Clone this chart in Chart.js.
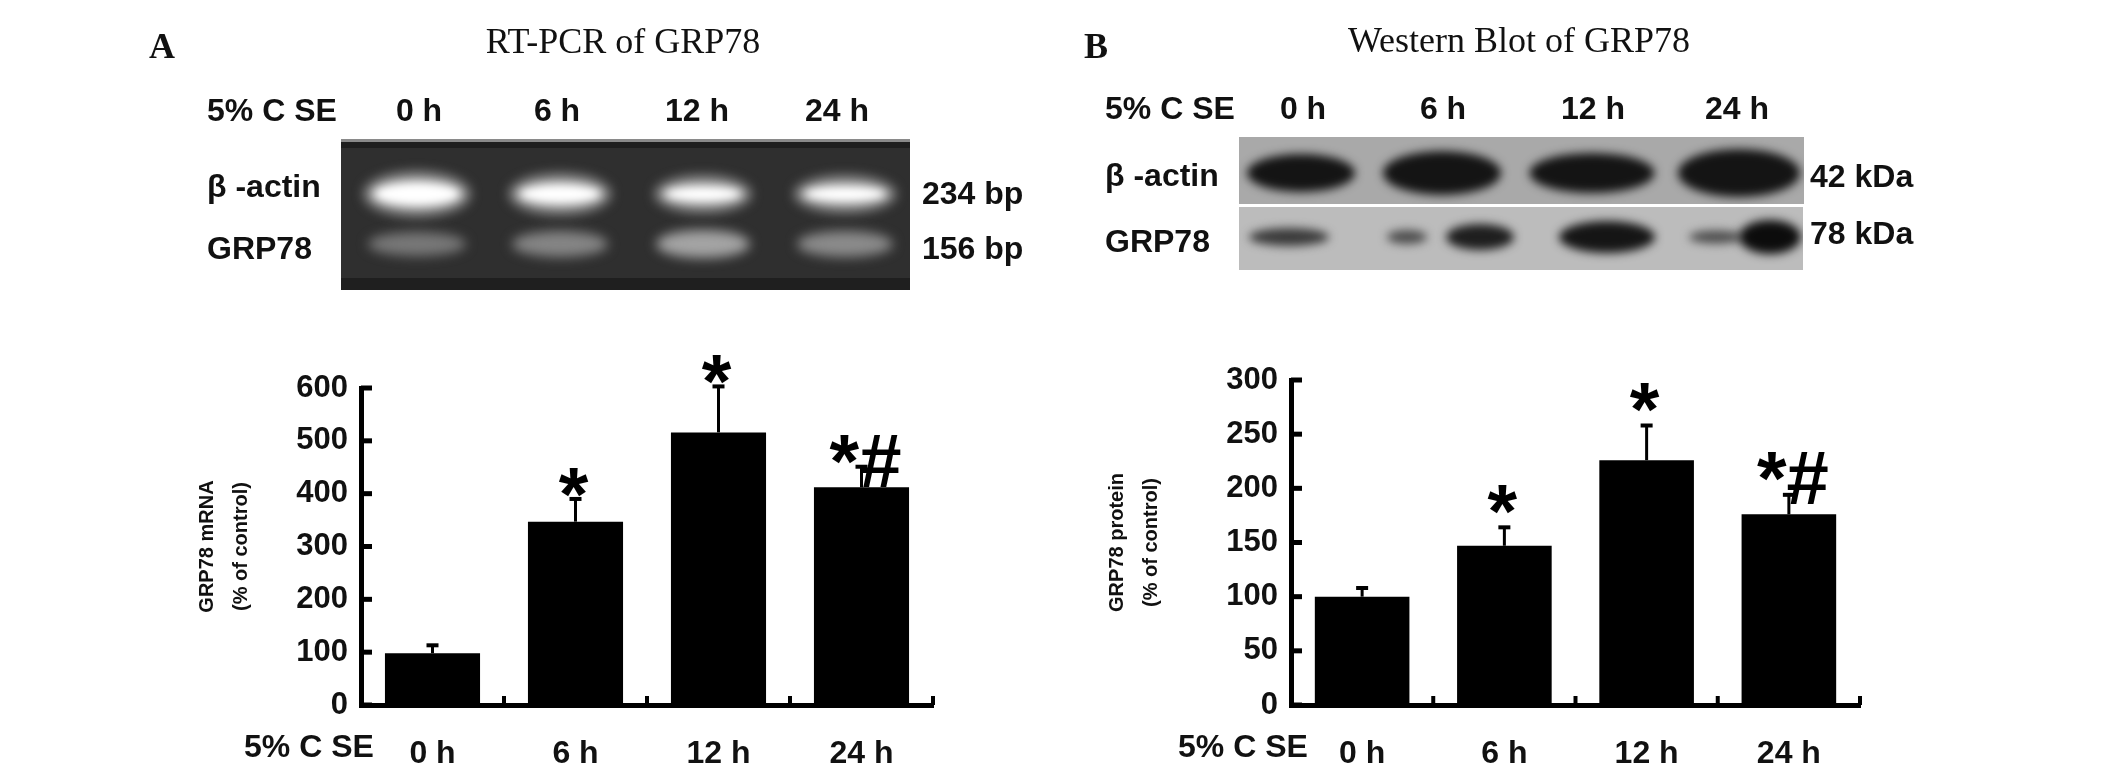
<!DOCTYPE html>
<html>
<head>
<meta charset="utf-8">
<title>GRP78</title>
<script src="https://cdn.jsdelivr.net/npm/chart.js@4"></script>
<style>
html, body { margin: 0; padding: 0; background: #fff; }
#page { position: relative; width: 2126px; height: 770px; overflow: hidden; }
#page canvas { position: absolute; }
.t { position: absolute; white-space: pre; color: #111; font: bold 32px "Liberation Sans", Arial, sans-serif; line-height: 1; transform: translateY(-50%); }
.c { transform: translate(-50%, -50%); }
.serif { font: 36px "Liberation Serif", serif; }
.letter { font: bold 36px "Liberation Serif", serif; }
</style>
</head>
<body>
<div id="page">
	<canvas id="gels" width="2126" height="770" style="left:0;top:0"></canvas>
	<canvas id="chartA" width="780" height="430" style="left:190px;top:340px"></canvas>
	<canvas id="chartB" width="780" height="430" style="left:1100px;top:340px"></canvas>

	<div class="t letter" style="left:149px;top:46px">A</div>
	<div class="t c serif" style="left:623px;top:41px">RT-PCR of GRP78</div>
	<div class="t" style="left:207px;top:110px">5% C SE</div>
	<div class="t c" style="left:419px;top:110px">0 h</div>
	<div class="t c" style="left:557px;top:110px">6 h</div>
	<div class="t c" style="left:697px;top:110px">12 h</div>
	<div class="t c" style="left:837px;top:110px">24 h</div>
	<div class="t" style="left:207px;top:186px">β -actin</div>
	<div class="t" style="left:207px;top:248px">GRP78</div>
	<div class="t" style="left:922px;top:193px">234 bp</div>
	<div class="t" style="left:922px;top:248px">156 bp</div>
	<div class="t" style="left:244px;top:746px">5% C SE</div>

	<div class="t letter" style="left:1084px;top:46px">B</div>
	<div class="t c serif" style="left:1519px;top:40px">Western Blot of GRP78</div>
	<div class="t" style="left:1105px;top:108px">5% C SE</div>
	<div class="t c" style="left:1303px;top:108px">0 h</div>
	<div class="t c" style="left:1443px;top:108px">6 h</div>
	<div class="t c" style="left:1593px;top:108px">12 h</div>
	<div class="t c" style="left:1737px;top:108px">24 h</div>
	<div class="t" style="left:1105px;top:175px">β -actin</div>
	<div class="t" style="left:1105px;top:241px">GRP78</div>
	<div class="t" style="left:1810px;top:176px">42 kDa</div>
	<div class="t" style="left:1810px;top:233px">78 kDa</div>
	<div class="t" style="left:1178px;top:746px">5% C SE</div>
</div>

<script>
const categories = ['0 h', '6 h', '12 h', '24 h'];

const mrnaValues = [98, 347, 516, 412];
const mrnaErrTops = [113, 390, 603, 451];
const mrnaMarks = ['', '*', '*', '*#'];

const proteinValues = [100, 147, 226, 176];
const proteinErrTops = [108, 164, 258, 194];
const proteinMarks = ['', '*', '*', '*#'];

// draws error bars, inward ticks and the significance marks
function extrasPlugin(errTops, marks, markGap, markSize){
	return {
		id: 'extras',
		afterDatasetsDraw: function(chart){
			let ctx = chart.ctx;
			let x = chart.scales.x;
			let y = chart.scales.y;
			let halfCat = (x.getPixelForValue(1) - x.getPixelForValue(0)) / 2;
			ctx.save();
			ctx.strokeStyle = '#000';
			ctx.fillStyle = '#000';

			// y ticks point to the right of the axis
			ctx.lineWidth = 5;
			y.ticks.forEach(function(t){
				let py = y.getPixelForValue(t.value);
				ctx.beginPath();
				ctx.moveTo(chart.chartArea.left, py);
				ctx.lineTo(chart.chartArea.left + 11, py);
				ctx.stroke();
			});

			// x ticks stand up between the bars
			ctx.lineWidth = 4;
			categories.forEach(function(c, i){
				let px = x.getPixelForValue(i) + halfCat;
				ctx.beginPath();
				ctx.moveTo(px, chart.chartArea.bottom);
				ctx.lineTo(px, chart.chartArea.bottom - 9);
				ctx.stroke();
			});

			errTops.forEach(function(v, i){
				let px = x.getPixelForValue(i);
				let top = y.getPixelForValue(v);
				let base = y.getPixelForValue(chart.data.datasets[0].data[i]);
				ctx.lineWidth = 3;
				ctx.beginPath();
				ctx.moveTo(px, base);
				ctx.lineTo(px, top);
				ctx.stroke();
				ctx.lineWidth = 4;
				ctx.beginPath();
				ctx.moveTo(px - 6, top);
				ctx.lineTo(px + 6, top);
				ctx.stroke();

				if(marks[i] != ''){
					ctx.font = 'bold ' + markSize + 'px "Liberation Sans", Arial, sans-serif';
					ctx.textAlign = 'center';
					ctx.textBaseline = 'alphabetic';
					// the star sits high in the em box
					ctx.fillText(marks[i], px + (marks[i].length > 1 ? 4 : -2), top - markGap + markSize * 0.56);
				}
			});
			ctx.restore();
		}
	};
}

function makeChart(id, values, errTops, marks, yMax, yStep, title, axisLeft, axisRight, axisTop, markGap){
	return new Chart(document.getElementById(id), {
		type: 'bar',
		data: {
			labels: categories,
			datasets: [{
				data: values,
				backgroundColor: '#000',
				borderWidth: 0,
				barPercentage: 1,
				categoryPercentage: 0.665
			}]
		},
		options: {
			responsive: false,
			animation: false,
			layout: { padding: { top: axisTop, right: 780 - axisRight, left: 0, bottom: 0 } },
			plugins: { legend: { display: false }, tooltip: { enabled: false } },
			scales: {
				x: {
					afterFit: function(s){ s.height = 430 - (705 - 340); },
					grid: { display: false },
					border: { display: true, color: '#000', width: 5 },
					ticks: {
						color: '#111',
						padding: 22,
						maxRotation: 0,
						font: { family: '"Liberation Sans", Arial, sans-serif', size: 32, weight: 'bold' }
					}
				},
				y: {
					min: 0,
					max: yMax,
					afterFit: function(s){ s.width = axisLeft; },
					grid: { display: false },
					border: { display: true, color: '#000', width: 5 },
					ticks: {
						stepSize: yStep,
						color: '#111',
						padding: 5,
						font: { family: '"Liberation Sans", Arial, sans-serif', size: 31, weight: 'bold' }
					},
					title: {
						display: true,
						text: title,
						color: '#111',
						padding: { top: 0, bottom: 0 },
						font: { family: '"Liberation Sans", Arial, sans-serif', size: 20, weight: 'bold', lineHeight: 1.7 }
					}
				}
			}
		},
		plugins: [extrasPlugin(errTops, marks, markGap, 76)]
	});
}

makeChart('chartA', mrnaValues, mrnaErrTops, mrnaMarks, 600, 100, ['GRP78 mRNA', '(% of control)'], 171, 743, 48, 22);
makeChart('chartB', proteinValues, proteinErrTops, proteinMarks, 300, 50, ['GRP78 protein', '(% of control)'], 191, 760, 40, 33);

// gel and blot photographs, soft blobs on a grey ground
function blob(ctx, cx, cy, w, h, color, blur){
	ctx.save();
	ctx.filter = 'blur(' + blur + 'px)';
	ctx.fillStyle = color;
	ctx.beginPath();
	ctx.ellipse(cx, cy, w / 2, h / 2, 0, 0, Math.PI * 2);
	ctx.fill();
	ctx.restore();
}

function clipped(ctx, x, y, w, h, bg, fn){
	ctx.save();
	ctx.beginPath();
	ctx.rect(x, y, w, h);
	ctx.clip();
	ctx.fillStyle = bg;
	ctx.fillRect(x, y, w, h);
	fn();
	ctx.restore();
}

let g = document.getElementById('gels').getContext('2d');

clipped(g, 341, 139, 569, 151, '#2f2f2f', function(){
	g.fillStyle = '#8a8a8a';
	g.fillRect(341, 139, 569, 3);
	g.fillStyle = '#1f1f1f';
	g.fillRect(341, 142, 569, 6);
	g.fillRect(341, 278, 569, 12);
	[[417, 100, 32], [560, 95, 28], [703, 90, 24], [845, 95, 24]].forEach(function(b){
		blob(g, b[0], 194, b[1] + 6, b[2] + 12, '#9a9a9a', 6);
		blob(g, b[0], 194, b[1] - 14, b[2] - 8, '#ffffff', 4);
	});
	[[417, 98, 24, '#787878'], [560, 96, 26, '#858585'], [703, 94, 28, '#a4a4a4'], [845, 96, 26, '#8b8b8b']].forEach(function(b){
		blob(g, b[0], 244, b[1], b[2], b[3], 6);
	});
});

clipped(g, 1239, 137, 565, 67, '#a9a9a9', function(){
	[[1301, 108, 38], [1442, 118, 44], [1592, 125, 40], [1739, 122, 48]].forEach(function(b){
		blob(g, b[0], 173, b[1], b[2], '#141414', 5);
	});
});

clipped(g, 1239, 207, 564, 63, '#bcbcbc', function(){
	[[1289, 80, 18, '#3a3a3a'], [1407, 40, 14, '#4c4c4c'], [1480, 68, 26, '#1e1e1e'],
	 [1607, 96, 32, '#151515'], [1716, 54, 13, '#4c4c4c'], [1770, 62, 34, '#0c0c0c']].forEach(function(b){
		blob(g, b[0], 237, b[1], b[2], b[3], 5);
	});
});
</script>
</body>
</html>
